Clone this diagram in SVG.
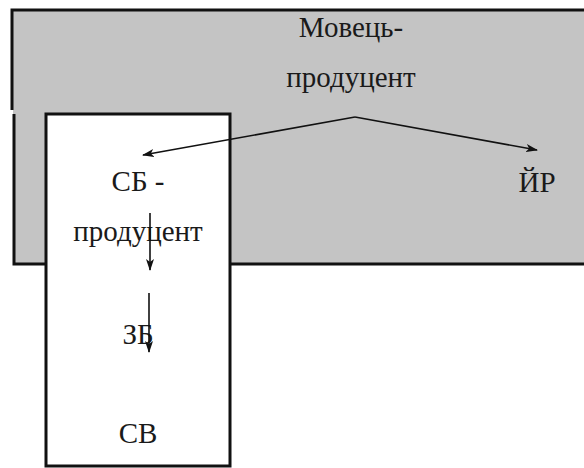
<svg xmlns="http://www.w3.org/2000/svg" width="584" height="468" viewBox="0 0 584 468">
<defs>
<style>
.t{font-family:"Liberation Serif","Times New Roman",serif;font-size:29px;fill:#1a1a1a;text-anchor:middle}
.b{fill:none;stroke:#111;stroke-width:3}
.w{fill:#fff;stroke:#111;stroke-width:3}
.c{fill:none;stroke:#111;stroke-width:1.6}
</style>
<marker id="ah" viewBox="0 0 12 8" refX="11" refY="4" markerWidth="12" markerHeight="8" markerUnits="userSpaceOnUse" orient="auto">
<path d="M0,0 L12,4 L0,8 L3,4 Z" fill="#111"/>
</marker>
</defs>
<rect width="584" height="468" fill="#fff"/>
<g id="speaker">
<rect x="13" y="10" width="575" height="254" fill="#c4c4c4"/>
<path class="b" d="M12,110 V10 H588"/>
<path class="b" d="M14,114 V264 H588"/>
<text class="t" x="351" y="37">Мовець-</text>
<text class="t" x="351" y="87">продуцент</text>
</g>
<g id="yr">
<text class="t" x="537" y="192">ЙР</text>
</g>
<g id="sb">
<rect x="46" y="114" width="184" height="352" class="w"/>
<text class="t" x="138" y="191">СБ -</text>
<text class="t" x="138" y="241">продуцент</text>
</g>
<g id="zb">
<text class="t" x="138" y="344">ЗБ</text>
</g>
<g id="sv">
<text class="t" x="138" y="443">СВ</text>
</g>
<g id="connectors">
<path class="c" d="M355,117 L143,155" marker-end="url(#ah)"/>
<path class="c" d="M355,117 L537,150" marker-end="url(#ah)"/>
<path class="c" d="M150,213 V270" marker-end="url(#ah)"/>
<path class="c" d="M149,293 V352" marker-end="url(#ah)"/>
</g>
</svg>
